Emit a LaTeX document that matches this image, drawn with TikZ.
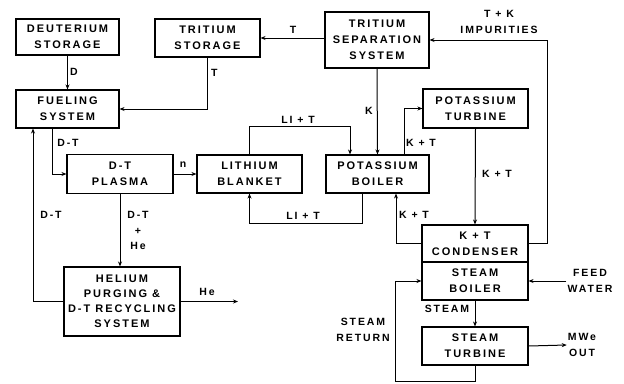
\documentclass[tikz,border=0pt]{standalone}
\usepackage{fontspec}
\newfontfamily\lettering{Liberation Sans Bold}[LetterSpace=18]
\usetikzlibrary{arrows.meta}
\begin{document}
\begin{tikzpicture}[x=1pt, y=-1pt,
  box/.style={draw, line width=1.1pt, align=center, inner sep=1pt,
    font=\lettering\fontsize{11}{16}\selectfont},
  arr/.style={->, >={Stealth[length=5pt, width=4pt]}, line width=1pt}]
  \tikzset{lbl/.style={inner sep=1pt, align=center, font=\lettering\fontsize{10.5}{15.5}\selectfont}}
  \useasboundingbox (0,0) rectangle (624,383);
  % Boxes
  \node[box, minimum width=103pt, minimum height=36pt] (dstor) at (67.5,37) {DEUTERIUM\\STORAGE};
  \node[box, minimum width=105pt, minimum height=38pt] (tstor) at (207.5,38) {TRITIUM\\STORAGE};
  \node[box, minimum width=104pt, minimum height=56pt] (tsep) at (377,40) {TRITIUM\\SEPARATION\\SYSTEM};
  \node[box, minimum width=103pt, minimum height=38pt] (fuel) at (67.5,109) {FUELING\\SYSTEM};
  \node[box, minimum width=106pt, minimum height=39pt] (plasma) at (120,174) {D-T\\PLASMA};
  \node[box, minimum width=105pt, minimum height=38pt] (lith) at (249.5,174) {LITHIUM\\BLANKET};
  \node[box, minimum width=103pt, minimum height=38pt] (kboil) at (377.5,174) {POTASSIUM\\BOILER};
  \node[box, minimum width=105pt, minimum height=39pt] (kturb) at (475.5,108.5) {POTASSIUM\\TURBINE};
  \node[box, minimum width=106pt, minimum height=37pt] (cond) at (475,243.5) {K + T\\CONDENSER};
  \node[box, minimum width=106pt, minimum height=38pt] (sboil) at (475,281) {STEAM\\BOILER};
  \node[box, minimum width=106pt, minimum height=38pt] (sturb) at (475,346) {STEAM\\TURBINE};
  \node[box, minimum width=116pt, minimum height=69pt,
    font=\lettering\fontsize{11}{15}\selectfont] (helium) at (122,301.5) {HELIUM\\PURGING \&\\D-T RECYCLING\\SYSTEM};
  % Free ends
  \node[lbl] (fw) at (590,281) {FEED\\WATER};
  \node[lbl] (mwe) at (582,345) {MWe\\OUT};
  \coordinate (heout) at (238,301.5);
  % Connectors
  \draw[arr] (dstor.south) -- (fuel.north);
  \draw[arr] (tstor.south) |- (fuel.east);
  \draw[arr] (tsep.west |- tstor.east) -- (tstor.east);
  \draw[arr] ([xshift=-15.5pt]fuel.south) |- (plasma.west);
  \draw[arr] (helium.west) -| ([xshift=-34.5pt]fuel.south);
  \draw[arr] (plasma.south) -- (plasma.south |- helium.north);
  \draw[arr] (helium.east) -- (heout);
  \draw[arr] (plasma.east) -- (lith.west);
  \draw[arr] (lith.north) -- ++(0,-28) -| ([xshift=-27.5pt]kboil.north);
  \draw[arr] ([xshift=-15.5pt]kboil.south) -- ++(0,30) -| (lith.south);
  \draw[arr] (tsep.south) -- (kboil.north);
  \draw[arr] ([xshift=26.5pt]kboil.north) |- (kturb.west);
  \draw[arr] (kturb.south) -- (cond.north);
  \draw[arr] (cond.west) -| ([xshift=18.5pt]kboil.south);
  \draw[arr] (cond.east) -- ++(19,0) |- (tsep.east);
  \draw[arr] (fw.west) -- (sboil.east);
  \draw[arr] (sboil.south) -- (sturb.north);
  \draw[arr] (sturb.south) -- ++(0,16) -| ([xshift=-26pt]sboil.west) -- (sboil.west);
  \draw[arr] (sturb.east) -- (mwe.west);
  % Labels
  \node[lbl, anchor=west] (lD) at (69,72) {D};
  \node[lbl, anchor=west] (lT1) at (210,73) {T};
  \node[lbl] (lT2) at (293,30) {T};
  \node[lbl] (lDT1) at (68,143) {D-T};
  \node[lbl] (lDT2) at (51,215) {D-T};
  \node[lbl] (lDTHe) at (138,230.5) {D-T\\+\\He};
  \node[lbl] (lHe) at (207,292) {He};
  \node[lbl] (ln) at (183,165) {n};
  \node[lbl] (lLT1) at (298,120) {LI + T};
  \node[lbl] (lLT2) at (303,216) {LI + T};
  \node[lbl] (lK) at (369,111) {K};
  \node[lbl] (lKT1) at (421,143) {K + T};
  \node[lbl] (lKT2) at (497,174) {K + T};
  \node[lbl] (lKT3) at (414,215) {K + T};
  \node[lbl] (lTK) at (499,22) {T + K\\IMPURITIES};
  \node[lbl] (lsteam) at (447,309) {STEAM};
  \node[lbl] (lret) at (363,330) {STEAM\\RETURN};
\end{tikzpicture}
\end{document}
